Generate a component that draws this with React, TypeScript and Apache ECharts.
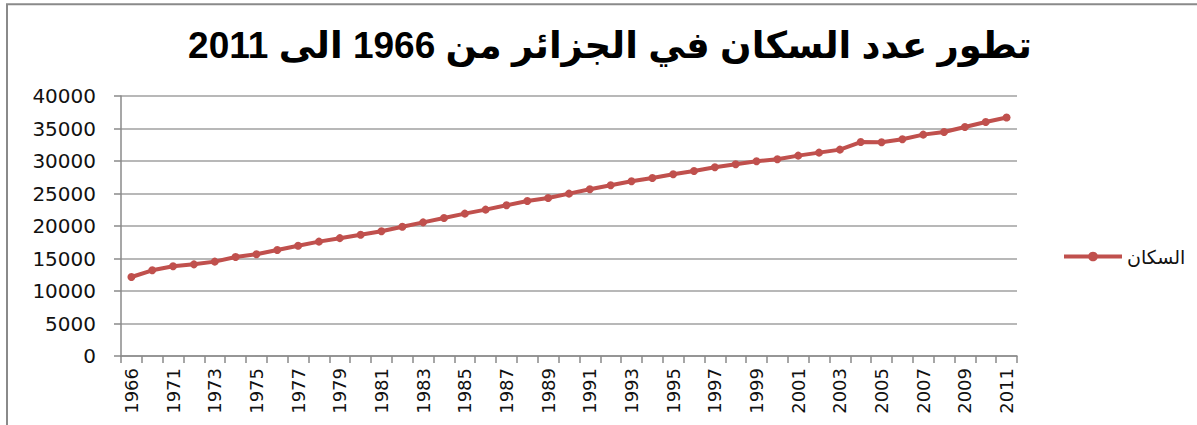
import React, { useEffect, useRef } from "react";
import * as echarts from "echarts";

const years: string[] = [
  "1966", "1970", "1971", "1972", "1973", "1974", "1975", "1976", "1977", "1978",
  "1979", "1980", "1981", "1982", "1983", "1984", "1985", "1986", "1987", "1988",
  "1989", "1990", "1991", "1992", "1993", "1994", "1995", "1996", "1997", "1998",
  "1999", "2000", "2001", "2002", "2003", "2004", "2005", "2006", "2007", "2008",
  "2009", "2010", "2011",
];

const population: number[] = [
  12150, 13180, 13800, 14100, 14520, 15230, 15650, 16300, 16970, 17600,
  18130, 18650, 19200, 19880, 20560, 21230, 21900, 22520, 23180, 23850,
  24300, 24980, 25650, 26260, 26880, 27380, 27950, 28460, 29030, 29500,
  29950, 30260, 30830, 31290, 31750, 32920, 32880, 33340, 34060, 34460,
  35230, 36000, 36680,
];

const seriesName = "السكان";
const titleText = "تطور عدد السكان في الجزائر من 1966 الى 2011";
const yMin = 0;
const yMax = 40000;
const yInterval = 5000;

export default function App() {
  const ref = useRef<HTMLDivElement>(null);
  useEffect(() => {
    document.body.style.margin = "0";
    if (!ref.current) return;
    const chart = echarts.init(ref.current, undefined, { renderer: "svg" });
    const red = "#C0504D";
    chart.setOption({
      animation: false,
      backgroundColor: "#ffffff",
      graphic: [
        {
          type: "rect",
          shape: { x: 7, y: 4.3, width: 1300, height: 500 },
          style: { fill: "none", stroke: "#8a8a8a", lineWidth: 2 },
          silent: true,
        },
        {
          type: "text",
          x: 610,
          y: 45,
          scaleX: 1.0,
          style: {
            text: "\u202B" + titleText + "\u202C",
            font: "bold 37px 'Liberation Sans', 'DejaVu Sans', sans-serif",
            fill: "#000000",
            textAlign: "center",
            textVerticalAlign: "middle",
          },
        },
      ],
      legend: {
        show: true,
        left: 1057,
        top: 242,
        itemWidth: 58,
        itemHeight: 12,
        data: [seriesName],
        lineStyle: { width: 4 },
        textStyle: {
          fontFamily: "'DejaVu Sans', sans-serif",
          fontSize: 19,
          color: "#111",
        },
      },
      grid: { left: 121, top: 96, right: 180, bottom: 69, containLabel: false },
      xAxis: {
        type: "category",
        data: years,
        boundaryGap: true,
        axisLine: { show: true, lineStyle: { color: "#8a8a8a", width: 1.5 } },
        axisTick: { show: true, interval: 0, length: 7, lineStyle: { color: "#8a8a8a", width: 1.5 } },
        axisLabel: {
          interval: 1,
          rotate: 90,
          margin: 12,
          fontFamily: "'DejaVu Sans', sans-serif",
          fontSize: 18,
          color: "#111",
        },
        splitLine: { show: false },
      },
      yAxis: {
        type: "value",
        min: yMin,
        max: yMax,
        interval: yInterval,
        axisLine: { show: true, lineStyle: { color: "#8a8a8a", width: 1.5 } },
        axisTick: { show: true, length: 7, lineStyle: { color: "#8a8a8a", width: 1.5 } },
        axisLabel: {
          margin: 25,
          formatter: (v: number) => String(v),
          fontFamily: "'DejaVu Sans', sans-serif",
          fontSize: 20,
          color: "#111",
        },
        splitLine: { show: true, lineStyle: { color: "#a0a0a0", width: 1.5 } },
      },
      series: [
        {
          name: seriesName,
          type: "line",
          data: population,
          symbol: "circle",
          symbolSize: 8,
          showSymbol: true,
          itemStyle: { color: red },
          lineStyle: { color: red, width: 4 },
        },
      ],
    });
    return () => chart.dispose();
  }, []);
  return <div ref={ref} style={{ width: 1197, height: 425 }} />;
}
